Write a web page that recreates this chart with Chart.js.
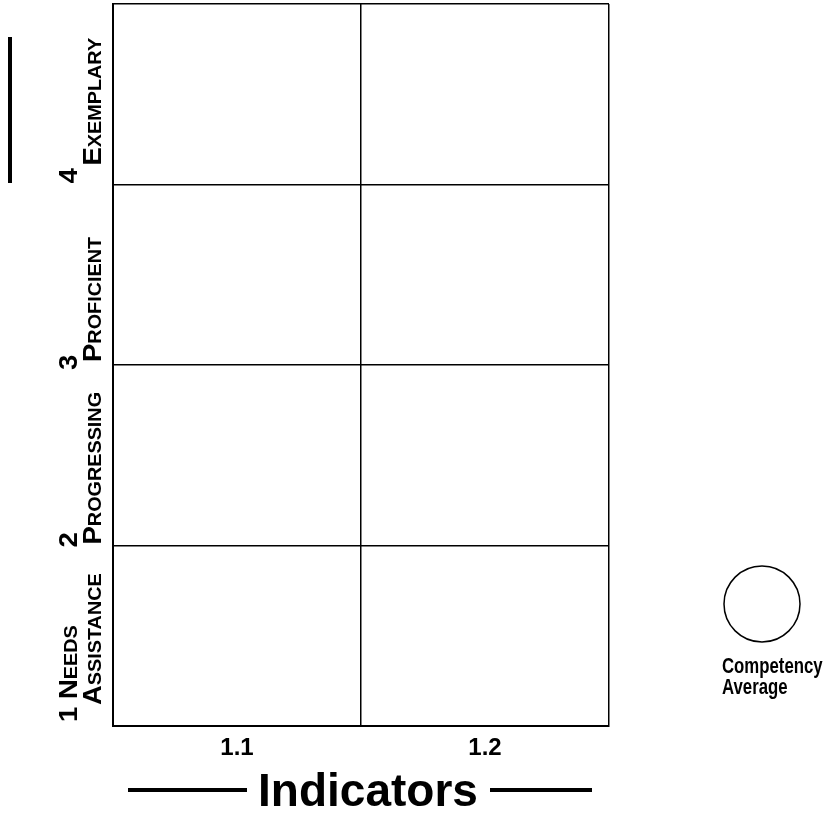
<!DOCTYPE html>
<html>
<head>
<meta charset="utf-8">
<script src="https://cdn.jsdelivr.net/npm/chart.js@4/dist/chart.umd.min.js"></script>
<style>
  html, body { margin: 0; padding: 0; background: #fff; }
  #wrap { width: 825px; height: 817px; }
</style>
</head>
<body>
<div id="wrap"><canvas id="c" width="825" height="817"></canvas></div>
<script>
// ---- data ----
const indicators = ['1.1', '1.2'];
const levelValues = [1, 2, 3, 4];
const levelTopValue = 5;
const levelLine1 = ['1 Needs', '2', '3', '4'];
const levelLine2 = ['Assistance', 'Progressing', 'Proficient', 'Exemplary'];
const competencyAverage = [];          // no points plotted in the reference
const legendLabel = ['Competency', 'Average'];
const axisTitle = 'Indicators';

// ---- layout / style (not data) ----
const FONT = "'Liberation Sans', Arial, sans-serif";
const line1Offset = [-4, 2, 5, -1];     // px from row's bottom grid line
const line2Offset = [-21, -1, -3, -19];

const decorPlugin = {
  id: 'decor',
  afterDraw(chart) {
    const ctx = chart.ctx;
    const y = chart.scales.y;
    ctx.save();
    ctx.fillStyle = '#000';
    ctx.strokeStyle = '#000';

    // y level labels (rotated, reading upward)
    levelValues.forEach((v, i) => {
      const py = y.getPixelForValue(v);
      [[levelLine1[i], 77, line1Offset[i]], [levelLine2[i], 101, line2Offset[i]]].forEach(([txt, bx, off]) => {
        ctx.save();
        ctx.font = 'small-caps bold 25px ' + FONT;
        ctx.textAlign = 'left';
        ctx.textBaseline = 'alphabetic';
        ctx.translate(bx, py + off);
        ctx.rotate(-Math.PI / 2);
        ctx.scale(1.1, 1);
        ctx.fillText(txt, 0, 0);
        ctx.restore();
      });
    });

    // decorative vertical rule at top-left
    ctx.lineWidth = 4;
    ctx.beginPath();
    ctx.moveTo(10, 37);
    ctx.lineTo(10, 183);
    ctx.stroke();

    // x axis title with flanking rules
    ctx.font = 'bold 46px ' + FONT;
    ctx.textAlign = 'center';
    ctx.textBaseline = 'alphabetic';
    ctx.fillText(axisTitle, 368, 806);
    ctx.lineWidth = 4;
    ctx.beginPath();
    ctx.moveTo(128, 790); ctx.lineTo(247, 790);
    ctx.moveTo(490, 790); ctx.lineTo(592, 790);
    ctx.stroke();

    // legend: circle + label
    ctx.lineWidth = 1.5;
    ctx.beginPath();
    ctx.arc(762, 604, 38, 0, Math.PI * 2);
    ctx.stroke();
    ctx.save();
    ctx.translate(722, 0);
    ctx.scale(0.78, 1);
    ctx.font = 'bold 21.5px ' + FONT;
    ctx.textAlign = 'left';
    ctx.fillText(legendLabel[0], 0, 673);
    ctx.fillText(legendLabel[1], 0, 694);
    ctx.restore();

    ctx.restore();
  }
};

new Chart(document.getElementById('c'), {
  type: 'line',
  data: {
    labels: indicators,
    datasets: [{
      label: legendLabel.join(' '),
      data: competencyAverage,
      showLine: false,
      pointStyle: 'circle',
      pointRadius: 38,
      borderColor: '#000',
      backgroundColor: 'rgba(0,0,0,0)'
    }]
  },
  options: {
    responsive: false,
    animation: false,
    layout: { padding: { top: 4, right: 216, left: 0, bottom: 0 } },
    plugins: { legend: { display: false }, tooltip: { enabled: false } },
    scales: {
      x: {
        type: 'category',
        offset: true,
        grid: { offset: true, color: '#000', lineWidth: 1.5, drawTicks: false },
        border: { color: '#000', width: 2 },
        ticks: { color: '#000', font: { family: FONT, size: 24, weight: 'bold' }, padding: 8 },
        afterFit(s) { s.height = 91; }
      },
      y: {
        type: 'linear',
        min: levelValues[0],
        max: levelTopValue,
        grid: { color: '#000', lineWidth: 1.5, drawTicks: false },
        border: { color: '#000', width: 2 },
        ticks: { stepSize: 1, display: false },
        afterFit(s) { s.width = 113; }
      }
    }
  },
  plugins: [decorPlugin]
});
</script>
</body>
</html>
